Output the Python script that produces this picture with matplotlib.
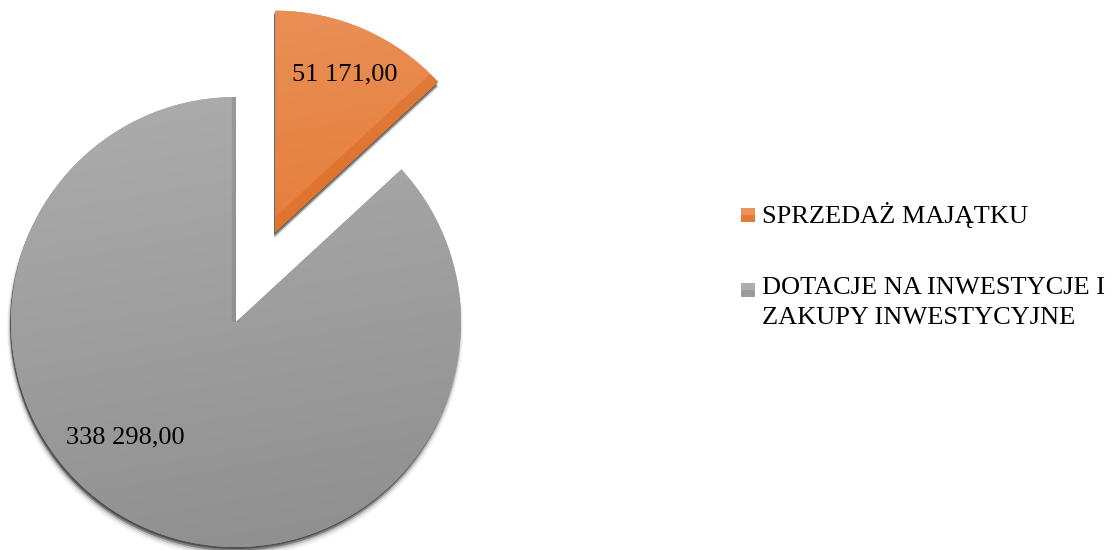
import numpy as np
import matplotlib
matplotlib.use("Agg")
import matplotlib.pyplot as plt
from matplotlib.patches import Wedge, Rectangle
from matplotlib.colors import LinearSegmentedColormap

plt.rcParams['font.family'] = ['Liberation Serif', 'DejaVu Serif']

categories = ["SPRZEDAŻ MAJĄTKU", "DOTACJE NA INWESTYCJE I\nZAKUPY INWESTYCYJNE"]
values = [51171.00, 338298.00]
value_labels = ["51 171,00", "338 298,00"]
colors = ["#EC7D31", "#A5A5A5"]
grad_colors = [("#EA935C", "#E2691C"), ("#ADADAD", "#8E8E8E")]
bevel_colors = ["#D8661F", "#7A7A7A"]

W, H = 1113, 550
fig = plt.figure(figsize=(W / 100, H / 100), dpi=100)
ax = fig.add_axes([0, 0, 1, 1])

cx, cy, R = 236, H - 322, 225
wedges, _ = ax.pie(values, colors=colors, startangle=90, counterclock=False,
                   explode=[0.435 * R, 0], center=(cx, cy), radius=R,
                   wedgeprops=dict(linewidth=0))
wedges[0].set_radius(R * 0.985)
ax.set_xlim(0, W)
ax.set_ylim(0, H)
ax.set_aspect('equal')
ax.axis('off')

# soft shadows
for w in wedges:
    c = w.center
    for dx, dy, dr, a in [(-1, -7, 3, 0.05), (-1, -6, 2, 0.08), (-1, -5, 1, 0.2),
                          (-1, -4, 0, 0.45), (-1, -2, 0, 0.6)]:
        s = Wedge((c[0] + dx, c[1] + dy), w.r + dr, w.theta1, w.theta2, color="#333333",
                  alpha=a, linewidth=0, zorder=0.5)
        ax.add_patch(s)
    w.set_zorder(1)

# gradients + bevel
bevel_style = [(16, 0.45), (6, 0.35)]
for w, (c1, c2), bc, (lw, al) in zip(wedges, grad_colors, bevel_colors, bevel_style):
    cmap = LinearSegmentedColormap.from_list("g", [c1, c2])
    c = w.center
    x0, x1 = c[0] - w.r, c[0] + w.r
    y0, y1 = c[1] - w.r, c[1] + w.r
    yy, xx = np.mgrid[0:1:200j, 0:1:200j]
    g = 0.85 * yy + 0.15 * xx
    im = ax.imshow(g, cmap=cmap, extent=(x0, x1, y0, y1), origin='upper',
                   zorder=1.5, interpolation='bilinear')
    im.set_clip_path(w)
    t = np.radians(w.theta1)
    ln, = ax.plot([c[0], c[0] + w.r * np.cos(t)], [c[1], c[1] + w.r * np.sin(t)],
                  color=bc, lw=lw, alpha=al, zorder=1.6, solid_capstyle='butt')
    ln.set_clip_path(w)
ax.set_xlim(0, W)
ax.set_ylim(0, H)

# value labels
label_pos = [(0.78, None), (0.71, 226.3)]
for w, lab, (d, ang) in zip(wedges, value_labels, label_pos):
    if ang is None:
        ang = (w.theta1 + w.theta2) / 2
    x = w.center[0] + d * w.r * np.cos(np.radians(ang))
    y = w.center[1] + d * w.r * np.sin(np.radians(ang))
    ax.text(x, y, lab, ha='center', va='center', fontsize=19, color='black', zorder=3)

# legend (manual, handle aligned with first line)
leg_y = [H - 215, H - 290]
for (c1, c2), lab, y in zip(grad_colors, categories, leg_y):
    ax.add_patch(Rectangle((741, y - 7), 14, 14, facecolor=c1, edgecolor='none', zorder=3))
    ax.add_patch(Rectangle((741, y - 7), 14, 7, facecolor=c2, edgecolor='none', alpha=0.6, zorder=3))
    ax.text(762, y + 13, lab, ha='left', va='top', fontsize=19, color='black',
            linespacing=1.45, zorder=3)

fig.savefig("out.png", dpi=100)
